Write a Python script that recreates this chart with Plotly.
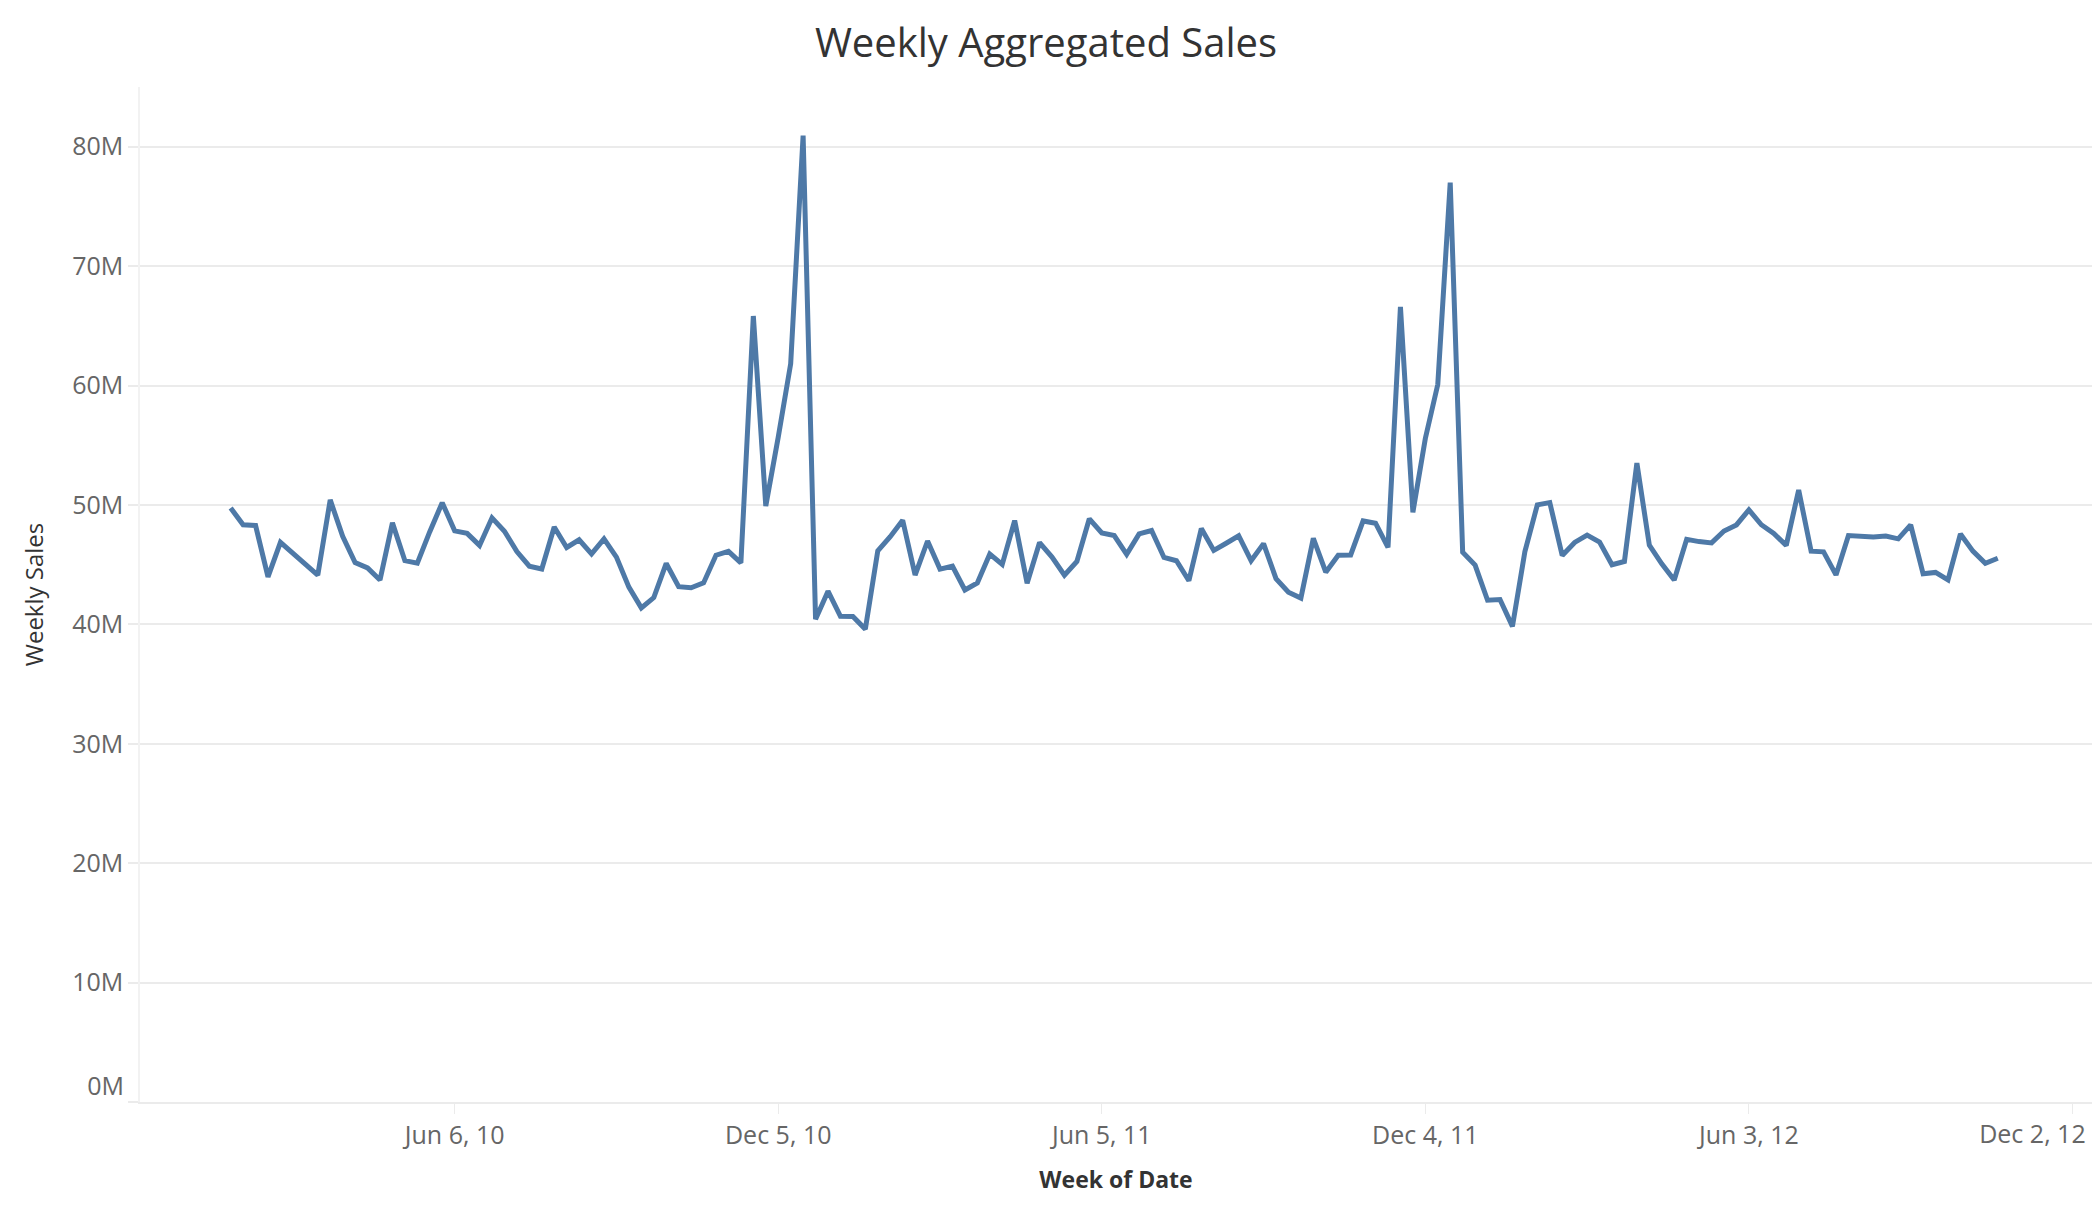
import pandas as pd
import plotly.graph_objects as go

# Weekly aggregated sales (millions), one value per week, weeks starting Sunday
first_week = "2010-01-31"
weekly_sales_m = [
    # 2010
    49.75, 48.34, 48.28, 43.97, 46.87, 45.93, 44.99, 44.13, 50.42, 47.37,
    45.18, 44.73, 43.71, 48.50, 45.33, 45.12, 47.76, 50.19, 47.83, 47.62,
    46.61, 48.92, 47.80, 46.10, 44.87, 44.64, 48.15, 46.44, 47.08, 45.90,
    47.16, 45.63, 43.12, 41.38, 42.24, 45.10, 43.16, 43.06, 43.47, 45.79,
    46.11, 45.15, 65.82, 49.91, 55.67, 61.82, 80.93, 40.43,
    # 2011
    42.78, 40.67, 40.65, 39.60, 46.15, 47.34, 48.72, 44.13, 46.98, 44.63,
    44.87, 42.88, 43.46, 45.89, 45.02, 48.69, 43.44, 46.85, 45.64, 44.11,
    45.27, 48.84, 47.65, 47.44, 45.86, 47.58, 47.86, 45.60, 45.33, 43.65,
    48.03, 46.19, 46.79, 47.42, 45.33, 46.76, 43.83, 42.69, 42.20, 47.21,
    44.37, 45.79, 45.81, 48.66, 48.47, 46.44, 66.59, 49.39, 55.56, 60.09,
    77.00, 46.04,
    # 2012
    44.96, 42.02, 42.08, 39.83, 46.09, 50.01, 50.20, 45.77, 46.86, 47.48,
    46.90, 44.99, 45.27, 53.50, 46.63, 45.07, 43.72, 47.12, 46.93, 46.82,
    47.82, 48.33, 49.59, 48.34, 47.61, 46.61, 51.25, 46.13, 46.07, 44.14,
    47.44, 47.38, 47.32, 47.39, 47.16, 48.33, 44.23, 44.35, 43.73, 47.57,
    46.13, 45.12, 45.54,
]

week_dates = pd.date_range(first_week, periods=len(weekly_sales_m), freq="7D")
weekly_sales = [v * 1e6 for v in weekly_sales_m]

y_tick_values = [0, 10e6, 20e6, 30e6, 40e6, 50e6, 60e6, 70e6, 80e6]
y_tick_labels = ["0M", "10M", "20M", "30M", "40M", "50M", "60M", "70M", "80M"]
x_tick_values = ["2010-06-06", "2010-12-05", "2011-06-05", "2011-12-04", "2012-06-03", "2012-12-02"]
x_tick_labels = ["Jun 6, 10", "Dec 5, 10", "Jun 5, 11", "Dec 4, 11", "Jun 3, 12", "Dec 2, 12"]

x_range = ["2009-12-11", "2012-12-13"]
y_range = [0, 85e6]

FONT = "Open Sans"
GRID = "#ebebeb"
LINE = "#4e79a7"

fig = go.Figure()
fig.add_trace(go.Scatter(
    x=week_dates, y=weekly_sales, mode="lines",
    line=dict(color=LINE, width=5),
    hoverinfo="skip", showlegend=False,
))
# helper (empty) trace so the overlay axes that carry the edge labels are drawn
fig.add_trace(go.Scatter(x=[], y=[], xaxis="x2", yaxis="y2",
                         hoverinfo="skip", showlegend=False))

main_x_text = x_tick_labels[:-1] + [""]
main_y_text = [""] + y_tick_labels[1:]

fig.update_layout(
    width=2092, height=1212,
    margin=dict(l=140, r=0, t=87, b=110),
    paper_bgcolor="white", plot_bgcolor="white",
    font=dict(family=FONT, color="#666666"),
    title=dict(text="Weekly Aggregated Sales", x=0.5, xref="container", xanchor="center",
               y=1 - 43 / 1212, yref="container", yanchor="middle",
               font=dict(family=FONT, size=40, color="#333333")),
    xaxis=dict(
        type="date", range=x_range,
        tickvals=x_tick_values, ticktext=main_x_text,
        ticks="outside", ticklen=10, tickcolor=GRID, tickwidth=1,
        tickfont=dict(family=FONT, size=25, color="#666666"),
        showgrid=False, zeroline=False,
        showline=True, linecolor=GRID, linewidth=1.5,
        title=dict(text="<b>Week of Date</b>", standoff=22,
                   font=dict(family=FONT, size=23, color="#333333")),
    ),
    yaxis=dict(
        range=y_range, tickvals=y_tick_values, ticktext=main_y_text,
        ticks="outside", ticklen=10, tickcolor=GRID, tickwidth=1.5,
        tickfont=dict(family=FONT, size=25, color="#666666"),
        showgrid=True, gridcolor=GRID, gridwidth=1.5, zeroline=False,
        showline=True, linecolor="#f2f2f2", linewidth=1.5,
        title=dict(text="Weekly Sales", standoff=22,
                   font=dict(family=FONT, size=24, color="#333333")),
    ),
    xaxis2=dict(
        type="date", range=x_range, overlaying="x", anchor="y2", side="bottom",
        tickvals=[x_tick_values[-1]], ticktext=[x_tick_labels[-1]],
        ticks="outside", ticklen=10, tickcolor="rgba(0,0,0,0)",
        ticklabelshift=-40, ticklabeloverflow="allow",
        tickfont=dict(family=FONT, size=25, color="#666666"),
        showgrid=False, zeroline=False, showline=False,
    ),
    yaxis2=dict(
        range=y_range, overlaying="y", anchor="x", side="left",
        tickvals=[y_tick_values[0]], ticktext=[y_tick_labels[0]],
        ticks="outside", ticklen=10, tickcolor="rgba(0,0,0,0)", ticklabelshift=-16,
        tickfont=dict(family=FONT, size=25, color="#666666"),
        showgrid=False, zeroline=False, showline=False,
    ),
)

fig.write_html("out.html", config={"displayModeBar": False},
               post_script="document.body.style.margin='0';document.body.style.overflow='hidden';")
